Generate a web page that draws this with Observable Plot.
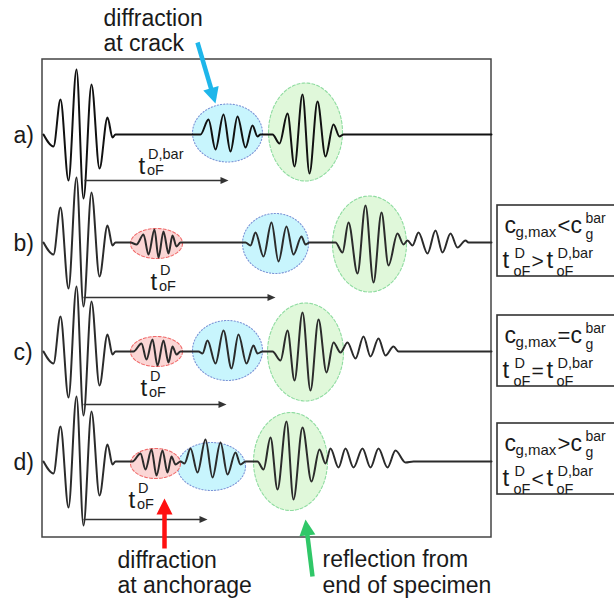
<!DOCTYPE html>
<html><head><meta charset="utf-8">
<script src="https://cdn.jsdelivr.net/npm/d3@7"></script>
<script src="https://cdn.jsdelivr.net/npm/@observablehq/plot@0.6"></script>
<style>html,body{margin:0;padding:0;background:#fff;overflow:hidden;} svg{display:block;}</style>
</head><body><div id="chart"></div>
<script>
// ---- traces ----
const traceNames = ["a)", "b)", "c)", "d)"];
const traceBase = [134, 242, 351, 461];
const traceColor = ["#111", "#2b2b2b", "#2b2b2b", "#2b2b2b"];

// excitation pulse extrema [time, amplitude]
const pulse = [[43,0],[53,-12],[60,35],[68,-46],[76,65],[83,-64],[91,50],[99,-34],[107,17],[112,-3],[115,0]];
// received signals (extrema)
const signalA = [[200,0],[208,15],[215,-15],[223,20],[230,-17],[237,18],[245,-13],[252,9],[257,-2],[260,0],
  [272,0],[279,-9],[287,21],[294,-32],[302,40],[309,-39],[317,33],[325,-22],[333,10],[339,-2],[343,0],[491,0]];
const signalB = [[130,0],[136,-2],[143,8],[148,-12],[154,13],[158,-15],[163,11],[168,-11],[172,7],[176,-4],[180,0],
  [245,0],[250,-3],[255,10],[263,-14],[271,20],[278,-19],[286,16],[293,-12],[301,6],[305,-2],[309,0],
  [335,0],[342,-10],[348,20],[357,-31],[365,37],[373,-40],[381,30],[388,-23],[397,9],[403,-2],[407,2],[412,-3],
  [418,10],[427,-11],[435,12],[442,-10],[450,9],[457,-5],[465,2],[468,0],[491,0]];
const signalC = [[133,0],[141,8],[146,-8],[152,12],[157,-14],[163,11],[168,-11],[172,5],[176,-3],[180,0],
  [198,0],[202,-2],[207,11],[215,-12],[223,21],[231,-17],[238,17],[246,-12],[253,6],[257,-2],[262,0],
  [272,0],[280,-9],[287,21],[294,-29],[302,39],[310,-39],[318,32],[326,-21],[333,9],[340,-1],
  [347,9],[355,-7],[363,15],[370,-5],[378,13],[385,-4],[393,5],[398,0],[491,0]];
const signalD = [[132,0],[140,8],[145,-8],[151,12],[156,-14],[162,11],[167,-11],[171,5],[175,-3],[180,0],
  [184,-2],[190,13],[197,-11],[205,22],[212,-16],[220,19],[227,-13],[235,9],[240,-3],[245,0],
  [257,0],[263,-8],[270,24],[277,-28],[286,40],[293,-38],[302,34],[311,-20],[319,12],[325,-2],
  [330,13],[338,-6],[345,13],[353,-6],[362,13],[370,-6],[378,13],[387,-6],[395,11],[405,-1],[413,0],[491,0]];
const signals = [signalA, signalB, signalC, signalD];

// ---- wave packets (highlight ellipses) ----
const packetKind  = ["crack","end","anch","crack","end","anch","crack","end","anch","crack","end"];
const packetTrace = [0,0,1,1,1,2,2,2,3,3,3];
const packetT     = [227,305,156,275,369,156,227,305,155,211,290];
const packetDy    = [-1.5,-2.5,1,1,1.5,0,-1,0.5,2,5,0];
const packetRx    = [35,37,26,33,37,26,35,38,25,34,37];
const packetRy    = [29,49,15,30,48,15,30,49,15,24,49];

// ---- time-of-flight arrows and labels ----
const tofFrom = [84, 83, 83, 83];
const tofTo   = [228, 275, 226, 207];
const tofY    = [180, 297, 404, 519];
const tofLabelX = [138, 150, 140, 128];
const tofLabelY = [173, 289, 395, 507];
const tofSup    = ["D,bar", "D", "D", "D"];

// ---- condition boxes ----
const boxTop = [205, 315, 423];
const boxCRel = ["<", "=", ">"];
const boxTRel = [">", "=", "<"];

// ---- annotations ----
const noteLines = ["diffraction", "at crack", "diffraction", "at anchorage", "reflection from", "end of specimen"];
const noteX = [103, 103, 117, 117, 322, 322];
const noteY = [25, 50, 567, 592, 566, 592];
const noteArrowTail = [[197,42],[164,548],[312,576]];
const noteArrowTip  = [[215,103],[164,498],[305,519]];
const noteArrowColor = ["#1eb6ea", "#ff1010", "#30c768"];

const frameBox = {x1: 42, x2: 491, y1: 59, y2: 537};

// ===== build tables =====
const waveRows = [];
signals.forEach((sig, k) => {
  [...pulse, ...sig].forEach(([t, a], j) => waveRows.push({k, j, x: t, y: traceBase[k] - a}));
});

const ellRows = [];
packetKind.forEach((kind, i) => {
  const cx = packetT[i], cy = traceBase[packetTrace[i]] + packetDy[i];
  for (let s = 0; s <= 96; s++) {
    const ang = s / 96 * 2 * Math.PI;
    ellRows.push({id: i, kind, x: cx + packetRx[i] * Math.cos(ang), y: cy + packetRy[i] * Math.sin(ang)});
  }
});

function head(tip, tail, L, W, id, color) {
  const dx = tail[0] - tip[0], dy = tail[1] - tip[1];
  const n = Math.hypot(dx, dy), ux = dx / n, uy = dy / n;
  const bx = tip[0] + ux * L, by = tip[1] + uy * L;
  return [
    {id, color, x: tip[0], y: tip[1]},
    {id, color, x: bx - uy * W, y: by + ux * W},
    {id, color, x: bx + uy * W, y: by - ux * W},
    {id, color, x: tip[0], y: tip[1]}
  ];
}
function base(tip, tail, L) {
  const dx = tail[0] - tip[0], dy = tail[1] - tip[1];
  const n = Math.hypot(dx, dy);
  return [tip[0] + dx / n * L, tip[1] + dy / n * L];
}

const tofShafts = tofY.map((y, i) => ({x1: tofFrom[i], x2: tofTo[i] - 6, y}));
const tofHeads = tofY.flatMap((y, i) => head([tofTo[i], y], [tofFrom[i], y], 8, 3.5, "t" + i, "#333"));

const noteShafts = noteArrowTip.map((tip, i) => {
  const b = base(tip, noteArrowTail[i], 12);
  return {x1: noteArrowTail[i][0], y1: noteArrowTail[i][1], x2: b[0], y2: b[1], color: noteArrowColor[i]};
});
const noteHeads = noteArrowTip.flatMap((tip, i) => head(tip, noteArrowTail[i], 16, 8, "n" + i, noteArrowColor[i]));

// text rows
const texts = [];
const T = (x, y, text, size, extra = {}) => texts.push({x, y, text, size, ...extra});
traceNames.forEach((n, i) => T(13, traceBase[i] + 8, n, 23));
noteLines.forEach((s, i) => T(noteX[i], noteY[i], s, 23));
tofLabelX.forEach((x, i) => {
  T(x, tofLabelY[i], "t", 24);
  T(x + 9.5, tofLabelY[i] - 15, tofSup[i], 14.5);
  T(x + 8.5, tofLabelY[i] + 1, "oF", 14.5);
});
boxTop.forEach((top, i) => {
  T(504, top + 27, "c", 23);
  T(515, top + 31, "g,max", 15);
  T(557, top + 27, boxCRel[i], 22);
  T(570, top + 27, "c", 23);
  T(585, top + 17, "bar", 14);
  T(585, top + 33, "g", 14);
  T(502, top + 62, "t", 24);
  T(514, top + 52, "D", 14.5);
  T(513, top + 70, "oF", 14.5);
  T(531, top + 62, boxTRel[i], 21);
  T(546, top + 62, "t", 24);
  T(557, top + 52, "D,bar", 14.5);
  T(556, top + 70, "oF", 14.5);
});

const kindStyle = {
  crack: {fill: "#c8f5fd", stroke: "#7b93d6", dash: "1.2,2"},
  end:   {fill: "#e0f8da", stroke: "#8fdca0", dash: "3,2"},
  anch:  {fill: "#fbd6d5", stroke: "#f06a6a", dash: "3,2"}
};

const ellMarks = Object.entries(kindStyle).map(([kind, st]) =>
  Plot.line(ellRows.filter(d => d.kind === kind), {
    x: "x", y: "y", z: "id", fill: st.fill, stroke: st.stroke, strokeWidth: 1.1,
    strokeDasharray: st.dash, curve: "linear-closed"
  })
);

const chart = Plot.plot({
  width: 614, height: 602,
  margin: 0,
  x: {domain: [0, 614], range: [0, 614], axis: null},
  y: {domain: [0, 602], range: [0, 602], axis: null},
  style: {background: "#fff", fontFamily: "'Liberation Sans', Arial, Helvetica, sans-serif", overflow: "hidden"},
  marks: [
    // condition boxes
    Plot.rect(boxTop, {x1: 497, x2: 640, y1: d => d, y2: d => d + 71, fill: "#fff", stroke: "#333", strokeWidth: 1.6}),
    // frame
    Plot.rect([frameBox], {x1: "x1", x2: "x2", y1: "y1", y2: "y2", fill: "none", stroke: "#444", strokeWidth: 1.5}),
    ...ellMarks,
    // waveforms
    Plot.line(waveRows, {x: "x", y: "y", z: "k", stroke: d => traceColor[d.k], strokeWidth: 2, curve: "monotone-x"}),
    // time-of-flight arrows
    Plot.link(tofShafts, {x1: "x1", x2: "x2", y1: "y", y2: "y", stroke: "#333", strokeWidth: 1.4}),
    Plot.line(tofHeads, {x: "x", y: "y", z: "id", fill: "#333", stroke: "none"}),
    // annotation arrows
    Plot.link(noteShafts, {x1: "x1", y1: "y1", x2: "x2", y2: "y2", stroke: d => d.color, strokeWidth: 4.5}),
    Plot.line(noteHeads, {x: "x", y: "y", z: "id", fill: d => d.color, stroke: "none"}),
    // texts
    Plot.text(texts, {x: "x", y: "y", text: "text", fontSize: d => d.size, textAnchor: "start", lineAnchor: "bottom", fill: "#1a1a1a"})
  ],
  color: {type: "identity"}
});
document.getElementById("chart").appendChild(chart);
</script>
</body></html>
